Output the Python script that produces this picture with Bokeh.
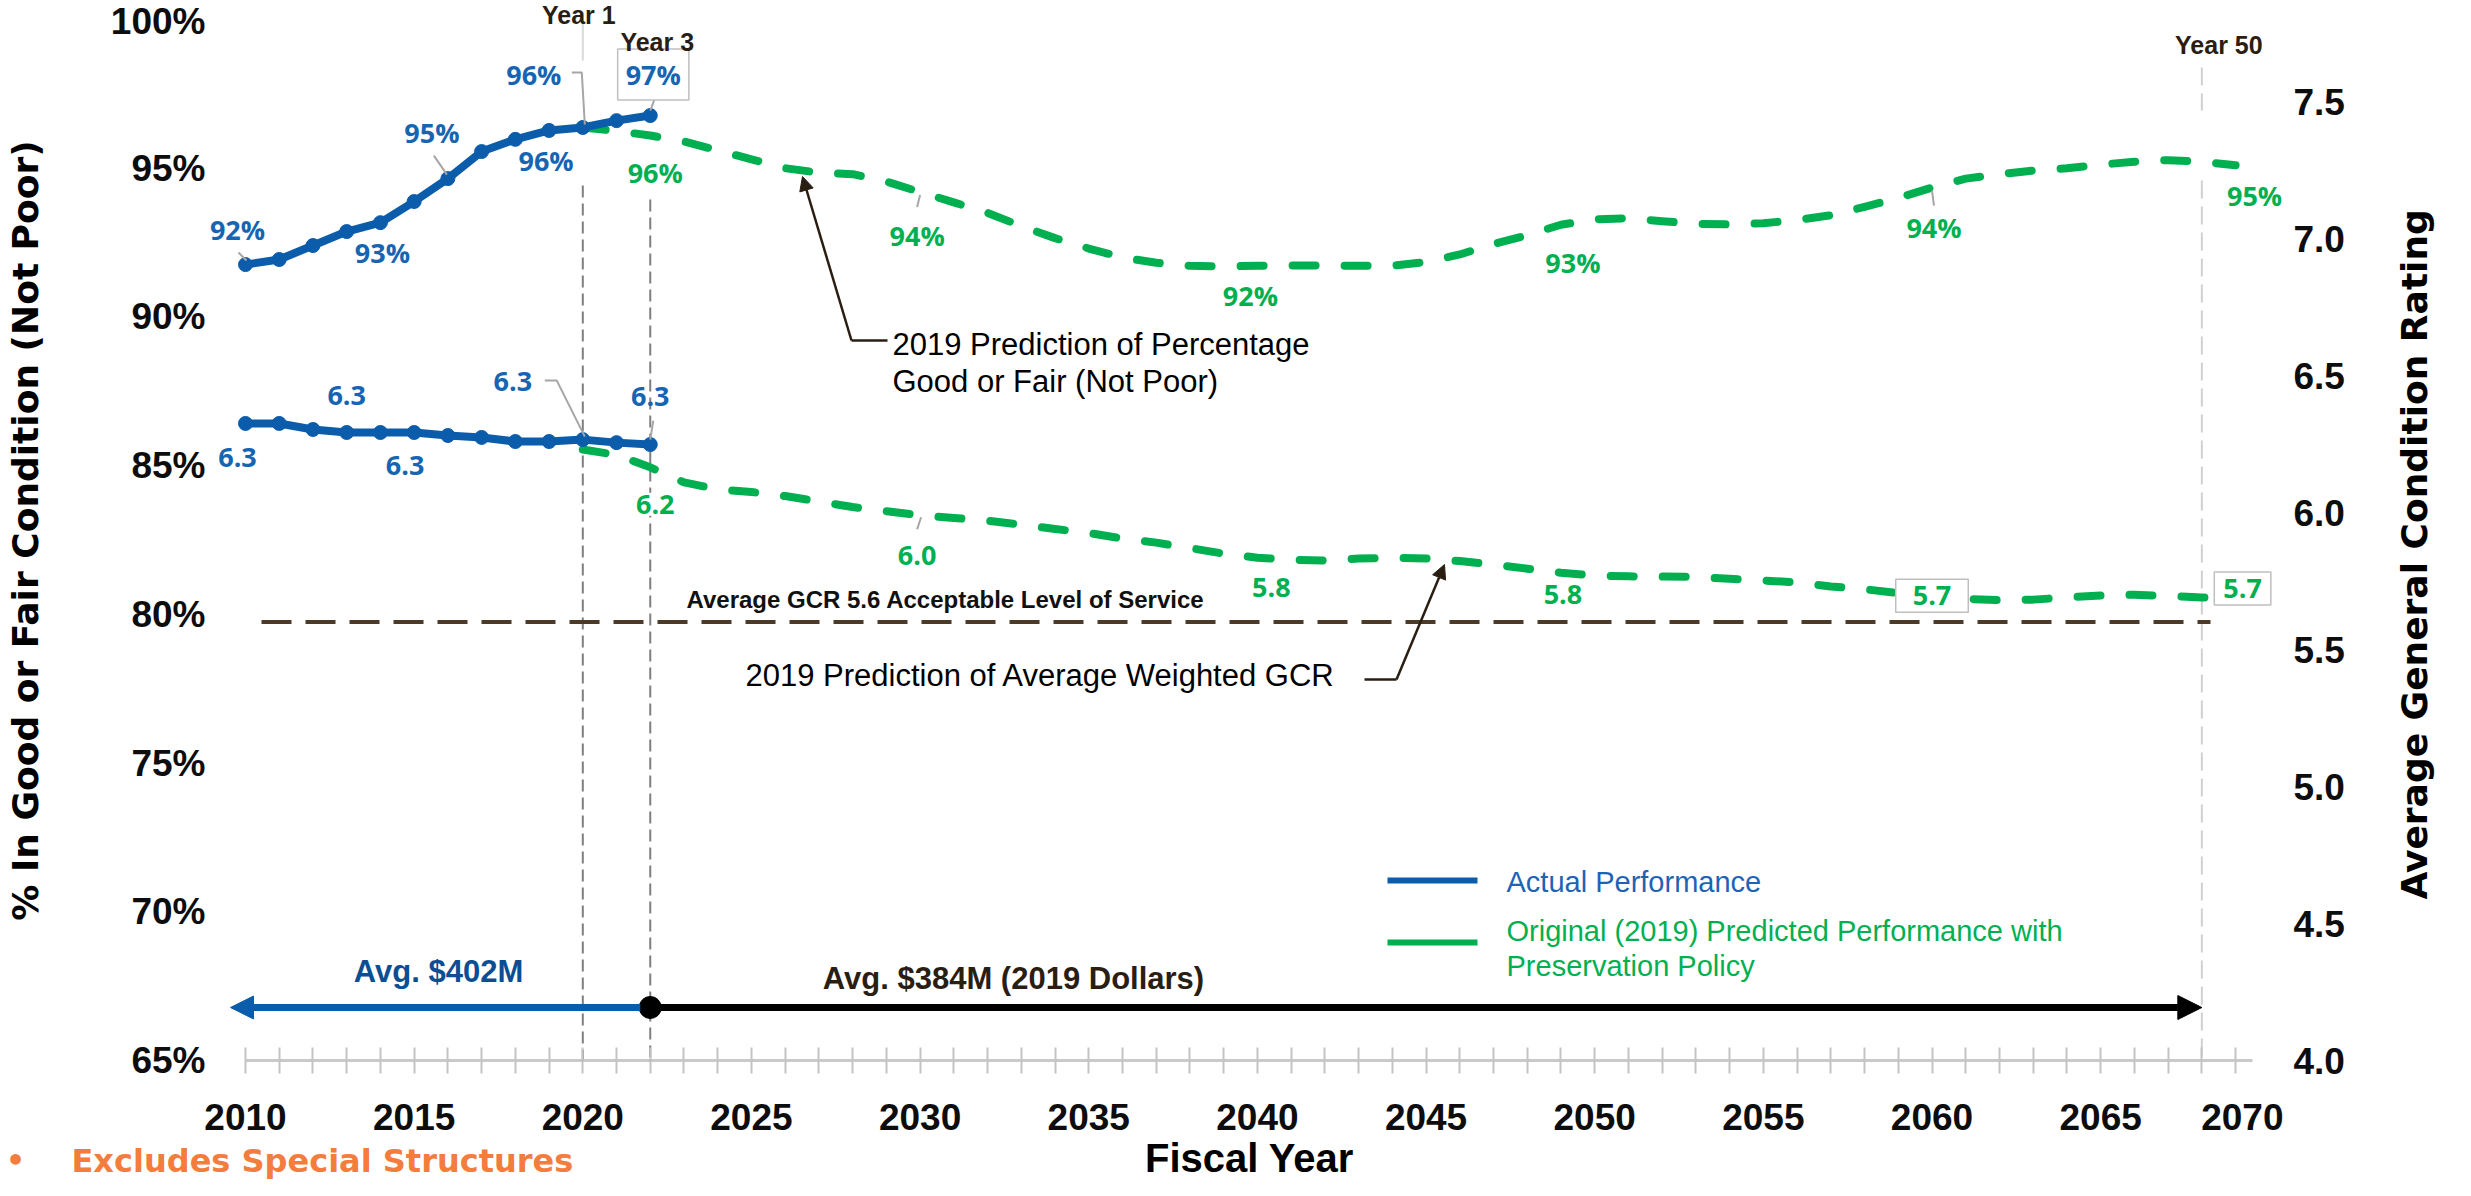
import math
from bokeh.plotting import figure
from bokeh.layouts import column, row
from bokeh.models import (Range1d, LinearAxis, FixedTicker, Label, Arrow, NormalHead,
                          NumeralTickFormatter)
from bokeh.embed import file_html
from bokeh.resources import INLINE

# ---------------- data ----------------
years_actual = list(range(2010, 2023))
pct_actual = [91.76, 91.93, 92.40, 92.87, 93.17, 93.88, 94.65, 95.56, 95.97, 96.27, 96.37, 96.60, 96.77]
gcr_actual = [6.325, 6.325, 6.303, 6.292, 6.292, 6.292, 6.281, 6.274, 6.259, 6.259, 6.266, 6.255, 6.248]

years_pred = list(range(2020, 2070))
pct_pred = [96.37, 96.25, 96.10, 95.90, 95.60, 95.30, 95.00, 94.85, 94.80, 94.55,
            94.20, 93.85, 93.50, 93.05, 92.65, 92.30, 92.00, 91.82, 91.72, 91.70,
            91.72, 91.73, 91.73, 91.72, 91.72, 91.85, 92.10, 92.45, 92.75, 93.10,
            93.28, 93.32, 93.22, 93.13, 93.11, 93.15, 93.26, 93.42, 93.70, 94.00,
            94.35, 94.65, 94.80, 94.92, 95.00, 95.12, 95.22, 95.27, 95.22, 95.10]
gcr_pred = [6.230, 6.210, 6.165, 6.110, 6.085, 6.075, 6.060, 6.040, 6.020, 6.005,
            5.990, 5.980, 5.970, 5.955, 5.940, 5.925, 5.905, 5.890, 5.870, 5.850,
            5.835, 5.827, 5.825, 5.832, 5.835, 5.832, 5.823, 5.810, 5.795, 5.780,
            5.770, 5.767, 5.766, 5.765, 5.758, 5.752, 5.745, 5.730, 5.720, 5.706,
            5.700, 5.685, 5.680, 5.682, 5.690, 5.697, 5.700, 5.695, 5.690, 5.690]

pct_ticks = [65, 70, 75, 80, 85, 90, 95, 100]
pct_tick_labels = ["65%", "70%", "75%", "80%", "85%", "90%", "95%", "100%"]
gcr_ticks = [4.0, 4.5, 5.0, 5.5, 6.0, 6.5, 7.0, 7.5]
gcr_tick_labels = ["4.0", "4.5", "5.0", "5.5", "6.0", "6.5", "7.0", "7.5"]
year_label_ticks = [2010, 2015, 2020, 2025, 2030, 2035, 2040, 2045, 2050, 2055, 2060, 2065, 2069.2]
year_tick_labels = ["2010", "2015", "2020", "2025", "2030", "2035", "2040", "2045", "2050",
                    "2055", "2060", "2065", "2070"]
year_minor_ticks = list(range(2010, 2070))

pct_actual_label_years = [2010, 2014, 2016, 2019, 2020, 2022]
pct_actual_label_texts = ["92%", "93%", "95%", "96%", "96%", "97%"]
gcr_actual_label_years = [2010, 2013, 2015, 2020, 2022]
gcr_actual_label_texts = ["6.3", "6.3", "6.3", "6.3", "6.3"]
pct_pred_label_years = [2022, 2030, 2040, 2049, 2060, 2069]
pct_pred_label_texts = ["96%", "94%", "92%", "93%", "94%", "95%"]
gcr_pred_label_years = [2022, 2030, 2040, 2049, 2060, 2069]
gcr_pred_label_texts = ["6.2", "6.0", "5.8", "5.8", "5.7", "5.7"]

acceptable_gcr = 5.6
acceptable_text = "Average GCR 5.6  Acceptable Level of Service"
milestone_years = [2020, 2022, 2068]
milestone_texts = ["Year 1", "Year 3", "Year 50"]
spend_split_year = 2022
spend_end_year = 2068
spend_texts = ["Avg. $402M", "Avg. $384M (2019 Dollars)"]
legend_texts = ["Actual Performance", "Original (2019) Predicted Performance with", "Preservation Policy"]

# ---------------- styling ----------------
BLUE = "#0B5CAB"
BLUE_TXT = "#1665B3"
GREEN = "#00B050"
DARK = "#2A1E12"
BROWN = "#4B3A27"
LEADER = "#A6A6A6"
ORANGE = "#F47C3C"
NUM_FONT = "Open Sans"
TICK_FONT = "Liberation Sans"
TXT_FONT = "Liberation Sans"
TITLE_FONT = "DejaVu Sans"
TICK_SIZE = "37px"

# ---------------- geometry (page pixels) ----------------
PAGE = 8
TOTAL_W, TOTAL_H = 2455, 1180
PX2010 = 253.0          # page x of year 2010
PPY = 33.73             # px per year
PY65 = 1068.0           # page y of 65 % / GCR 4.0
PPP = 1041.0 / 35.0     # px per percent
PPG = 274.0             # px per GCR point


def px_of_year(v): return PX2010 + (v - 2010) * PPY
def year_of_px(px): return 2010 + (px - PX2010) / PPY
def py_of_pct(v): return PY65 - (v - 65) * PPP
def pct_of_py(py): return 65 + (PY65 - py) / PPP
def py_of_gcr(v): return PY65 - (v - 4.0) * PPG
def gcr_of_py(py): return 4.0 + (PY65 - py) / PPG


FRAME_L, FRAME_R, FRAME_T, FRAME_B = 215, 2296, 8, 1068
MAIN_BOTTOM = 1095                       # page y where the main plot ends
MAIN_W, MAIN_H = 2348, MAIN_BOTTOM - PAGE
SIDE_W = TOTAL_W - MAIN_W
STRIP_H = TOTAL_H - MAIN_H
STRIP_FRAME_TOP = 1140                    # year labels sit just above this line


def style_tick_labels(ax):
    ax.major_label_text_font = TICK_FONT
    ax.major_label_text_font_size = TICK_SIZE
    ax.major_label_text_font_style = "bold"
    ax.major_label_text_color = "#0D0D0D"


def hide_rule(ax):
    ax.axis_line_color = None
    ax.major_tick_line_color = None
    ax.minor_tick_line_color = None
    ax.major_tick_in = 0
    ax.major_tick_out = 0
    ax.minor_tick_in = 0
    ax.minor_tick_out = 0


p = figure(width=MAIN_W, height=MAIN_H,
           x_range=Range1d(year_of_px(FRAME_L), year_of_px(FRAME_R)),
           y_range=Range1d(pct_of_py(FRAME_B), pct_of_py(FRAME_T)),
           output_backend="svg", toolbar_location=None,
           min_border_left=FRAME_L - PAGE, min_border_right=MAIN_W - (FRAME_R - PAGE),
           min_border_top=FRAME_T - PAGE, min_border_bottom=MAIN_H - (FRAME_B - PAGE))
p.extra_y_ranges = {"gcr": Range1d(gcr_of_py(FRAME_B), gcr_of_py(FRAME_T))}
p.outline_line_color = None
p.xgrid.visible = False
p.ygrid.visible = False
p.background_fill_color = "white"
p.border_fill_color = "white"

# x axis of the main plot: axis rule + crossing yearly ticks (year labels are on the strip below)
xa = p.xaxis[0]
xa.ticker = FixedTicker(ticks=[], minor_ticks=year_minor_ticks)
xa.bounds = (2010, year_of_px(2260))
xa.axis_line_color = "#C9C9C9"
xa.axis_line_width = 3
xa.major_tick_in = 13
xa.major_tick_out = 13
xa.minor_tick_in = 13
xa.minor_tick_out = 13
xa.major_tick_line_color = None
xa.minor_tick_line_color = "#C4C4C4"
xa.minor_tick_line_width = 2
xa.major_label_standoff = 0

# left axis
ya = p.yaxis[0]
ya.ticker = FixedTicker(ticks=pct_ticks)
ya.major_label_overrides = dict(zip(pct_ticks, pct_tick_labels))
hide_rule(ya)
style_tick_labels(ya)
ya.major_label_standoff = 2
ya.axis_label = "% In Good or Fair Condition (Not Poor)"
ya.axis_label_text_font = TITLE_FONT
ya.axis_label_text_font_size = "36px"
ya.axis_label_text_font_style = "bold"
ya.axis_label_text_color = "black"
ya.axis_label_standoff = 62

# right axis
ra = LinearAxis(y_range_name="gcr", ticker=FixedTicker(ticks=gcr_ticks),
                formatter=NumeralTickFormatter(format="0.0"))
ra.major_label_overrides = dict(zip(gcr_ticks, gcr_tick_labels))
hide_rule(ra)
style_tick_labels(ra)
ra.major_label_standoff = 5
p.add_layout(ra, "right")


def add_text(fig, x, y, text, size, color, font=NUM_FONT, bold=True, align="center",
             baseline="middle", rng="default", angle=0.0, box=None, bg=False):
    kw = {}
    if box is not None:
        kw = dict(background_fill_color="white", border_line_color="#BFBFBF",
                  border_line_width=1.5, padding=box)
    elif bg:
        kw = dict(background_fill_color="white", padding=2)
    fig.add_layout(Label(x=x, y=y, text=text, text_font=font, text_font_size=f"{size}px",
                         text_font_style="bold" if bold else "normal", text_color=color,
                         text_align=align, text_baseline=baseline, y_range_name=rng,
                         angle=angle, **kw))


# ---------------- milestone vertical lines ----------------
ms_color = ["#7F7F7F", "#7F7F7F", "#D0D0D0"]
ms_dash = ["12 6", "12 6", "18 8"]
ms_spans = [[(193, PY65)], [(207, PY65)], [(75, 118), (188, PY65)]]
ms_bottom = [1097, 1102, 1097]
for yr, col, dash, spans, bot in zip(milestone_years, ms_color, ms_dash, ms_spans, ms_bottom):
    for (t, b) in spans:
        p.segment(x0=[yr], y0=[pct_of_py(t)], x1=[yr], y1=[pct_of_py(b)],
                  line_color=col, line_width=2, line_dash=dash)
    p.add_layout(Arrow(end=None, x_start=yr, y_start=65, x_end=yr,
                       y_end=pct_of_py(min(bot, MAIN_BOTTOM)),
                       line_color=col, line_width=2, line_dash=dash))
p.segment(x0=[milestone_years[0]], y0=[pct_of_py(30)], x1=[milestone_years[0]], y1=[pct_of_py(68)],
          line_color="#D9D9D9", line_width=2)

# ---------------- acceptable level line ----------------
p.line([year_of_px(269), year_of_px(2218)], [acceptable_gcr, acceptable_gcr], y_range_name="gcr",
       line_color=BROWN, line_width=4, line_dash="30 14")

# ---------------- predicted (dashed green) ----------------
p.line(years_pred, pct_pred, line_color=GREEN, line_width=8, line_dash="23 29",
       line_cap="round", line_join="round")
p.line(years_pred, gcr_pred, y_range_name="gcr", line_color=GREEN, line_width=8,
       line_dash="23 29", line_cap="round", line_join="round")

# ---------------- actual (blue with markers) ----------------
p.line(years_actual, pct_actual, line_color=BLUE, line_width=8)
p.scatter(years_actual, pct_actual, size=14, fill_color=BLUE, line_color=BLUE)
p.line(years_actual, gcr_actual, y_range_name="gcr", line_color=BLUE, line_width=8)
p.scatter(years_actual, gcr_actual, y_range_name="gcr", size=14, fill_color=BLUE, line_color=BLUE)


# ---------------- data labels ----------------
def series_labels(years, values, label_years, texts, offsets, color, to_py, from_py, rng,
                  boxes=None, leaders=None, bgs=None):
    for i, (yr, txt, (dx, dy)) in enumerate(zip(label_years, texts, offsets)):
        v = values[years.index(yr)]
        px, py = px_of_year(yr), to_py(v)
        add_text(p, year_of_px(px + dx), from_py(py + dy), txt, 27, color, rng=rng,
                 box=(boxes[i] if boxes else None), bg=(bgs[i] if bgs else False))
        if leaders and yr in leaders:
            pts = leaders[yr]
            p.line([year_of_px(px + a) for a, b in pts], [from_py(py + b) for a, b in pts],
                   y_range_name=rng, line_color=LEADER, line_width=2)


series_labels(years_actual, pct_actual, pct_actual_label_years, pct_actual_label_texts,
              [(-8, -35), (2, 30), (-16, -46), (-3, 30), (-49, -53), (3, -41)],
              BLUE_TXT, py_of_pct, pct_of_py, "default",
              boxes=[None, None, None, None, None, dict(x=8, y=7)],
              leaders={2010: [(-7, -12), (1, -4)], 2016: [(-14, -23), (-1, -4)],
                       2020: [(-11, -55), (-1, -55), (2, -3)], 2022: [(5, -18), (0, -5)]})
series_labels(years_actual, gcr_actual, gcr_actual_label_years, gcr_actual_label_texts,
              [(-8, 34), (0, -37), (-9, 33), (-70, -58), (0, -48)],
              BLUE_TXT, py_of_gcr, gcr_of_py, "gcr",
              leaders={2020: [(-38, -59), (-26, -59), (2, -3)], 2022: [(3, -24), (0, -5)]})
series_labels(years_pred, pct_pred, pct_pred_label_years, pct_pred_label_texts,
              [(5, 37), (-3, 43), (-7, 30), (12, 38), (2, 40), (19, 30)],
              GREEN, py_of_pct, pct_of_py, "default",
              leaders={2030: [(0, 3), (-3, 15)], 2060: [(0, 3), (2, 18)]})
series_labels(years_pred, gcr_pred, gcr_pred_label_years, gcr_pred_label_texts,
              [(5, 37), (-3, 40), (14, 30), (2, 22), (0, 1), (7, -9)],
              GREEN, py_of_gcr, gcr_of_py, "gcr",
              boxes=[None, None, None, None, dict(x=17, y=7), dict(x=9, y=7)],
              bgs=[True, False, False, False, False, False],
              leaders={2030: [(1, 2), (-3, 14)]})

# ---------------- milestone labels ----------------
for yr, txt, (dx, py) in zip(milestone_years, milestone_texts, [(-4, 22.5), (7, 49), (17, 52)]):
    add_text(p, year_of_px(px_of_year(yr) + dx), pct_of_py(py), txt, 25, DARK, font=TXT_FONT)

# ---------------- spending arrows ----------------
spend_y = pct_of_py(1015)
p.add_layout(Arrow(x_start=year_of_px(px_of_year(spend_split_year) - 10), y_start=spend_y,
                   x_end=year_of_px(238), y_end=spend_y,
                   end=NormalHead(size=23, fill_color=BLUE, line_color=BLUE, line_width=1),
                   line_color=BLUE, line_width=7))
p.add_layout(Arrow(x_start=spend_split_year, y_start=spend_y, x_end=spend_end_year, y_end=spend_y,
                   end=NormalHead(size=24, fill_color="black", line_color="black", line_width=1),
                   line_color="black", line_width=7))
p.scatter([spend_split_year], [spend_y], size=22, fill_color="black", line_color="black")
add_text(p, year_of_px(446), pct_of_py(979), spend_texts[0], 31, "#0B4E93", font=TXT_FONT)
add_text(p, year_of_px(1021), pct_of_py(986), spend_texts[1], 31, DARK, font=TXT_FONT)

# ---------------- acceptable level text ----------------
add_text(p, year_of_px(694), pct_of_py(607), acceptable_text, 24, "#111111", font=TXT_FONT, align="left")

# ---------------- callouts ----------------
add_text(p, year_of_px(900), pct_of_py(352), "2019 Prediction of Percentage", 31, "black",
         font=TXT_FONT, bold=False, align="left")
add_text(p, year_of_px(900), pct_of_py(389), "Good or Fair (Not Poor)", 31, "black",
         font=TXT_FONT, bold=False, align="left")
p.line([year_of_px(859), year_of_px(895)], [pct_of_py(348), pct_of_py(348)], line_color=DARK, line_width=2.5)
p.add_layout(Arrow(x_start=year_of_px(859), y_start=pct_of_py(348), x_end=year_of_px(810), y_end=pct_of_py(184),
                   end=NormalHead(size=14, fill_color=DARK, line_color=DARK, line_width=1),
                   line_color=DARK, line_width=2.5))
add_text(p, year_of_px(753), pct_of_py(683), "2019 Prediction of Average Weighted GCR", 31, "black",
         font=TXT_FONT, bold=False, align="left")
p.line([year_of_px(1372), year_of_px(1404)], [pct_of_py(687), pct_of_py(687)], line_color=DARK, line_width=2.5)
p.add_layout(Arrow(x_start=year_of_px(1404), y_start=pct_of_py(687), x_end=year_of_px(1452), y_end=pct_of_py(572),
                   end=NormalHead(size=14, fill_color=DARK, line_color=DARK, line_width=1),
                   line_color=DARK, line_width=2.5))

# ---------------- legend ----------------
p.line([year_of_px(1395), year_of_px(1485)], [pct_of_py(888)] * 2, line_color=BLUE, line_width=6)
p.line([year_of_px(1395), year_of_px(1485)], [pct_of_py(950)] * 2, line_color=GREEN, line_width=6)
add_text(p, year_of_px(1514), pct_of_py(889), legend_texts[0], 29, "#1F63B5", font=TXT_FONT, bold=False, align="left")
add_text(p, year_of_px(1514), pct_of_py(938), legend_texts[1], 29, GREEN, font=TXT_FONT, bold=False, align="left")
add_text(p, year_of_px(1514), pct_of_py(973), legend_texts[2], 29, GREEN, font=TXT_FONT, bold=False, align="left")

# ---------------- right title panel ----------------
side = figure(width=SIDE_W, height=MAIN_H, output_backend="svg", toolbar_location=None,
              x_range=Range1d(year_of_px(PAGE + MAIN_W), year_of_px(PAGE + TOTAL_W)),
              y_range=Range1d(pct_of_py(PAGE + MAIN_H), pct_of_py(PAGE)),
              x_axis_type=None, y_axis_type=None, min_border=0)
side.outline_line_color = None
side.grid.visible = False
add_text(side, year_of_px(2422), pct_of_py(576), "Average General Condition Rating", 36, "black",
         font=TITLE_FONT, angle=math.pi / 2)

# ---------------- bottom strip: year labels, x title and note ----------------
strip = figure(width=TOTAL_W, height=STRIP_H, output_backend="svg", toolbar_location=None,
               x_range=Range1d(year_of_px(PAGE), year_of_px(PAGE + TOTAL_W)),
               y_range=Range1d(pct_of_py(PAGE + TOTAL_H), pct_of_py(STRIP_FRAME_TOP)),
               x_axis_type=None, y_axis_type=None, min_border=0,
               min_border_top=STRIP_FRAME_TOP - MAIN_BOTTOM)
strip.outline_line_color = None
strip.grid.visible = False
ta = LinearAxis(ticker=FixedTicker(ticks=year_label_ticks))
ta.major_label_overrides = dict(zip(year_label_ticks, year_tick_labels))
hide_rule(ta)
style_tick_labels(ta)
ta.major_label_standoff = 3
strip.add_layout(ta, "above")
# continuation of the Year 1 / Year 3 / Year 50 lines below the axis
for yr, col, dash, bot in zip(milestone_years, ms_color, ms_dash, ms_bottom):
    if bot > MAIN_BOTTOM:
        strip.add_layout(Arrow(end=None, x_start=yr, y_start=pct_of_py(MAIN_BOTTOM), x_end=yr,
                               y_end=pct_of_py(bot), line_color=col, line_width=2, line_dash=dash))
add_text(strip, year_of_px(1257), pct_of_py(1165.5), "Fiscal Year", 40, "black", font=TXT_FONT)
add_text(strip, year_of_px(23), pct_of_py(1168), "\u2022", 30, ORANGE, font=TITLE_FONT)
add_text(strip, year_of_px(79), pct_of_py(1168), "Excludes Special Structures", 32, ORANGE,
         font=TITLE_FONT, align="left")

layout = column(row(p, side, spacing=0), strip, spacing=0)
open("out.html", "w").write(file_html(layout, INLINE))
